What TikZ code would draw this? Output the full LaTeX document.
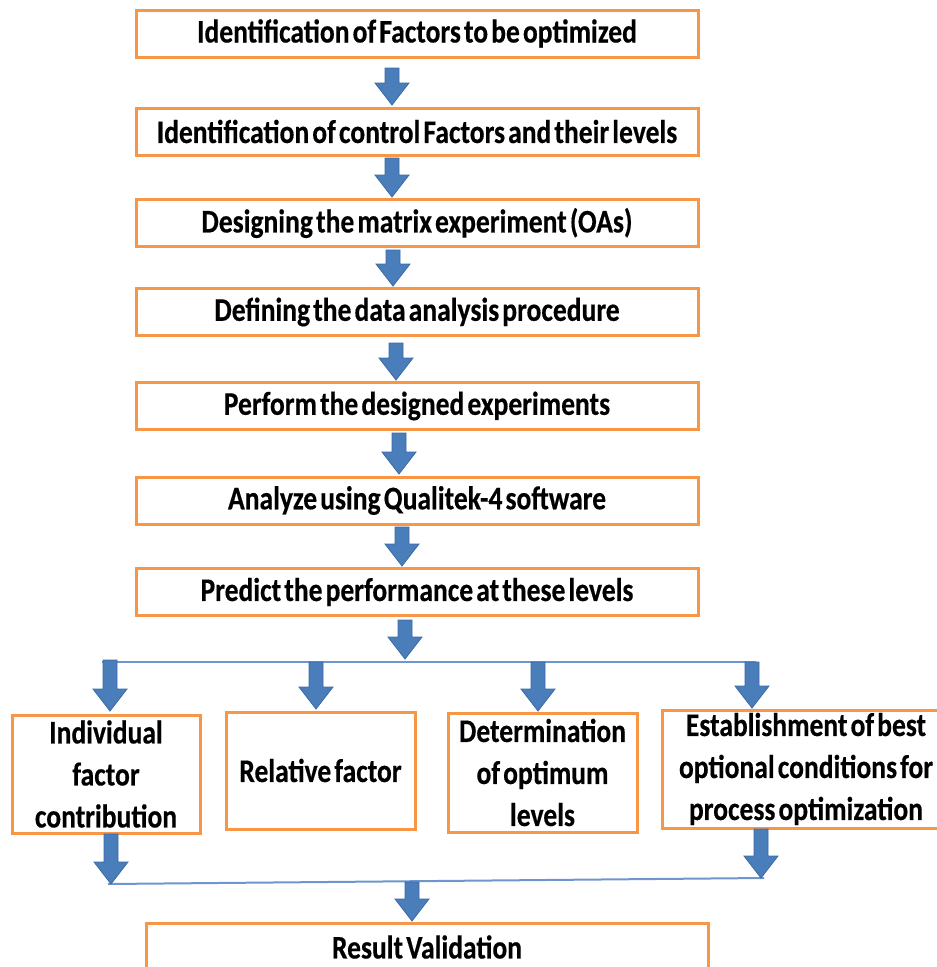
\documentclass[tikz,border=0pt]{standalone}
\usepackage{fontspec}
\newfontfamily\cf[FakeStretch=0.835,WordSpace=0.5,FakeBold=0.4]{Carlito}
\definecolor{orng}{HTML}{F79646}
\definecolor{arrfill}{HTML}{4A7EBB}
\definecolor{arrline}{HTML}{3C6AA5}
\definecolor{conn}{HTML}{6F95CE}
\newcommand\barrow[3]{%
  \filldraw[blockarrow] (#1-7,#2) -- (#1+7,#2) -- (#1+7,#3-22) -- (#1+17,#3-22) -- (#1,#3) -- (#1-17,#3-22) -- (#1-7,#3-22) -- cycle;}
\begin{document}
\begin{tikzpicture}[x=1pt,y=-1pt,
  box/.style={draw=orng,line width=3pt,fill=white,inner sep=0pt,
    font=\cf\bfseries\fontsize{33}{42}\selectfont,align=center},
  mainbox/.style={box,minimum width=562pt,minimum height=47pt},
  subbox/.style={box,minimum height=118pt},
  blockarrow/.style={fill=arrfill,draw=arrline,line width=0.8pt,line join=miter},
  connline/.style={draw=conn,line width=2pt}]
\useasboundingbox (0,0) rectangle (937,967);
\clip (0,0) rectangle (937,967);
% main column
\node[mainbox] (b1) at (417,33.5) {Identification of Factors to be optimized};
\node[mainbox] (b2) at (417,131.5) {Identification of control Factors and their levels};
\node[mainbox] (b3) at (417,223) {Designing the matrix experiment (OAs)};
\node[mainbox] (b4) at (417,312) {Defining the data analysis procedure};
\node[mainbox] (b5) at (417,406) {Perform the designed experiments};
\node[mainbox] (b6) at (417,500.5) {Analyze using Qualitek-4 software};
\node[mainbox] (b7) at (417,592) {Predict the performance at these levels};
% branch boxes
\node[subbox,minimum width=188pt] (c1) at (106,774) {Individual\\factor\\contribution};
\node[subbox,minimum width=189pt,minimum height=117pt] (c2) at (320.5,770.5) {Relative factor};
\node[subbox,minimum width=189pt,minimum height=119pt] (c3) at (542.5,772.5) {Determination\\of optimum\\levels};
\node[subbox,minimum width=288pt] (c4) at (806,769) {Establishment of best\\optional conditions for\\process optimization};
\node[box,minimum width=562pt,minimum height=48pt] (rv) at (427,947) {Result Validation};
% connector lines
\coordinate (hl) at (102,662);
\coordinate (hr) at (756,662);
\coordinate (ll) at (108,884);
\coordinate (lr) at (764,878);
\draw[connline] (hl) -- (hr);
\draw[connline] (ll) -- (lr);
% block arrows
\barrow{392}{68}{105}
\barrow{392}{158}{197}
\barrow{393}{250}{286}
\barrow{396}{343}{380}
\barrow{399}{433}{474}
\barrow{402}{527}{566}
\barrow{405}{620}{659}
\barrow{110}{660}{711}
\barrow{316}{662}{709}
\barrow{538}{662}{711}
\barrow{752}{662}{708}
\barrow{111}{834}{884}
\barrow{761}{829}{878}
\barrow{412}{882}{921}
\end{tikzpicture}
\end{document}
